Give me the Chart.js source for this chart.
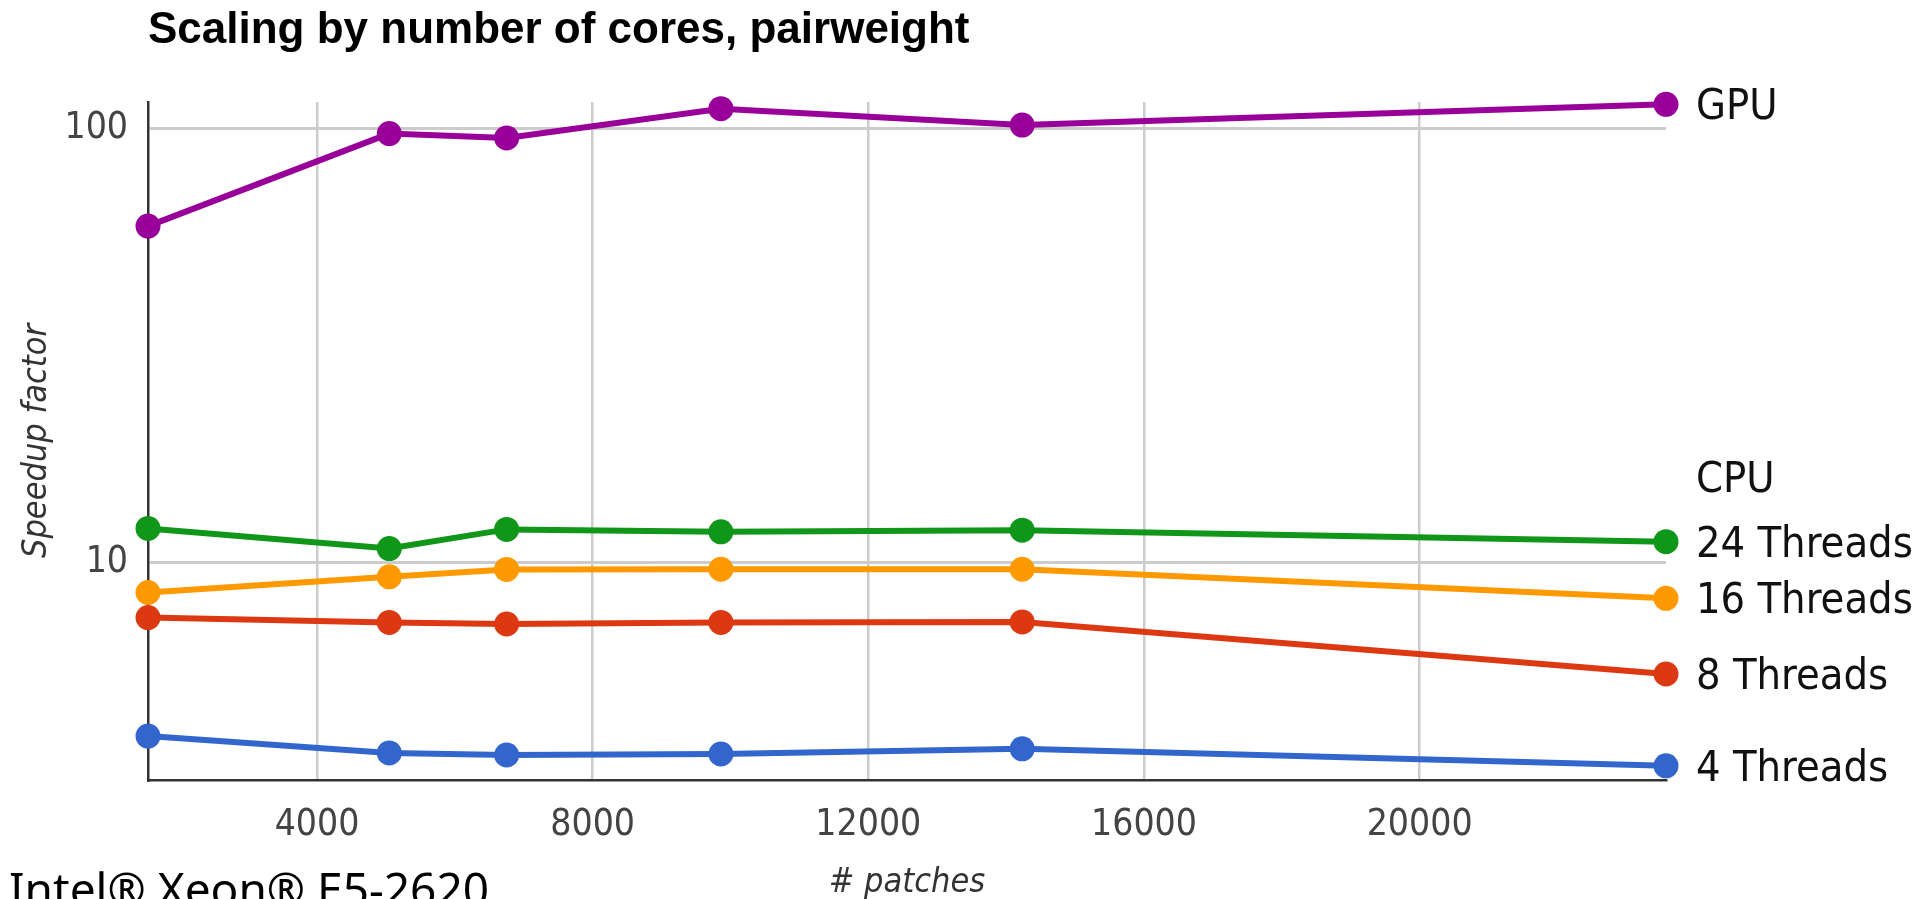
<!DOCTYPE html>
<html>
<head>
<meta charset="utf-8">
<title>Scaling by number of cores, pairweight</title>
<script src="https://cdn.jsdelivr.net/npm/chart.js@4.4.1/dist/chart.umd.min.js"></script>
<style>
  html, body { margin: 0; padding: 0; background: #fff; overflow: hidden; }
  #chart { display: block; }
</style>
</head>
<body>
<canvas id="chart" width="1921" height="899"></canvas>
<script>
// Values
const patches = [1548, 5049, 6752, 9861, 14233, 23575];
const gpu = [59.6, 97.4, 95.2, 111.2, 101.9, 113.8];
const threads24 = [11.96, 10.75, 11.9, 11.75, 11.85, 11.15];
const threads16 = [8.51, 9.25, 9.62, 9.63, 9.63, 8.25];
const threads8 = [7.45, 7.26, 7.2, 7.26, 7.28, 5.52];
const threads4 = [3.97, 3.63, 3.59, 3.61, 3.71, 3.39];

const xTicks = [4000, 8000, 12000, 16000, 20000];
const yTicks = [10, 100];
const seriesNames = ["GPU", "24 Threads", "16 Threads", "8 Threads", "4 Threads"];
const seriesColors = ["#990099", "#109618", "#ff9900", "#dc3912", "#3366cc"];
const seriesValues = [gpu, threads24, threads16, threads8, threads4];

const labelFont = "43px 'DejaVu Sans Condensed', 'DejaVu Sans', sans-serif";

// Title, end-of-line labels and the processor caption
const textPlugin = {
  id: "texts",
  afterDraw: (chart) => {
    const ctx = chart.ctx;
    ctx.save();
    ctx.fillStyle = "#000";
    ctx.textAlign = "left";
    ctx.textBaseline = "alphabetic";

    ctx.font = "bold 44px 'Liberation Sans', Arial, sans-serif";
    ctx.fillText("Scaling by number of cores, pairweight", chart.chartArea.left, 43);

    ctx.font = labelFont;
    ctx.fillStyle = "#111";
    let cpuY = null;
    seriesNames.forEach((name, i) => {
      const meta = chart.getDatasetMeta(i);
      const last = meta.data[meta.data.length - 1];
      ctx.fillText(name, last.x + 30, last.y + 15);
      if (name === "24 Threads") cpuY = last.y + 15 - 65;
    });
    if (cpuY !== null) {
      const meta = chart.getDatasetMeta(1);
      const last = meta.data[meta.data.length - 1];
      ctx.fillText("CPU", last.x + 30, cpuY);
    }

    ctx.fillStyle = "#000";
    ctx.font = "46px 'Noto Sans', sans-serif";
    ctx.fillText("Intel® Xeon® E5-2620", 9, 906);
    ctx.restore();
  },
};

const datasets = seriesNames.map((name, i) => ({
  label: name,
  data: patches.map((x, j) => ({ x: x, y: seriesValues[i][j] })),
  borderColor: seriesColors[i],
  backgroundColor: seriesColors[i],
  borderWidth: 6,
  pointRadius: 12.5,
  pointHoverRadius: 12.5,
  pointBorderWidth: 0,
  tension: 0,
  clip: false,
}));

new Chart(document.getElementById("chart"), {
  type: "line",
  data: { datasets: datasets },
  plugins: [textPlugin],
  options: {
    responsive: false,
    animation: false,
    layout: { padding: { left: 0, right: 255, top: 102, bottom: 0 } },
    plugins: {
      legend: { display: false },
      tooltip: { enabled: false },
    },
    scales: {
      x: {
        type: "linear",
        min: patches[0],
        max: patches[patches.length - 1],
        afterBuildTicks: (axis) => {
          axis.ticks = xTicks.map((v) => ({ value: v }));
        },
        afterFit: (axis) => {
          axis.height = 119;
        },
        grid: { color: "#cccccc", lineWidth: 2.5, drawTicks: false },
        border: { display: true, color: "#333333", width: 2.5 },
        ticks: {
          padding: 23,
          color: "#444444",
          font: { family: "'Liberation Sans Narrow', 'DejaVu Sans Condensed', sans-serif", size: 37 },
          callback: (v) => String(v),
        },
        title: {
          display: true,
          text: "# patches",
          color: "#333333",
          padding: { top: 0, bottom: -5 },
          font: { family: "'DejaVu Sans Condensed', 'DejaVu Sans', sans-serif", size: 34, style: "italic" },
        },
      },
      y: {
        type: "logarithmic",
        min: 3.144,
        max: 115.2,
        afterBuildTicks: (axis) => {
          axis.ticks = yTicks.map((v) => ({ value: v }));
        },
        afterFit: (axis) => {
          axis.width = 148;
        },
        grid: { color: "#cccccc", lineWidth: 3, drawTicks: false },
        border: { display: true, color: "#333333", width: 2.5 },
        ticks: {
          padding: 20,
          color: "#444444",
          font: { family: "'Liberation Sans Narrow', 'DejaVu Sans Condensed', sans-serif", size: 37 },
          callback: (v) => String(v),
        },
        title: {
          display: true,
          text: "Speedup factor",
          color: "#333333",
          padding: { top: 17, bottom: 0 },
          font: { family: "'DejaVu Sans Condensed', 'DejaVu Sans', sans-serif", size: 34, style: "italic" },
        },
      },
    },
  },
});
</script>
</body>
</html>
